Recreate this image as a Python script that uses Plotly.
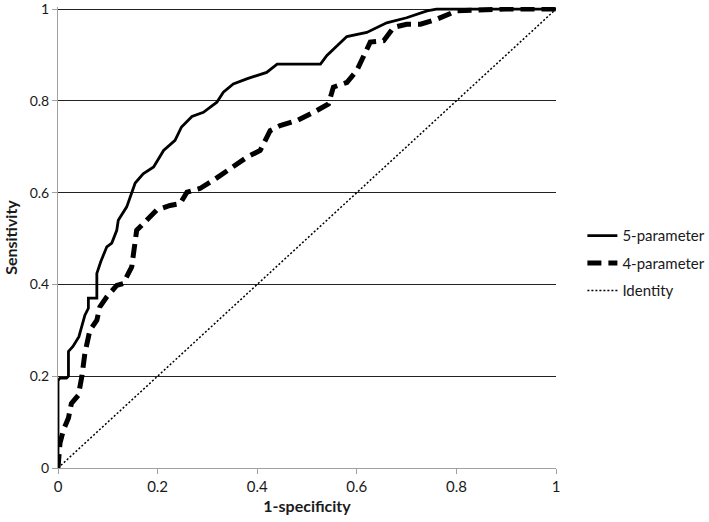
import plotly.graph_objects as go

# 5-parameter ROC curve
fpr5 = [0, 0, 0.004, 0.017, 0.021, 0.021, 0.03, 0.042, 0.054, 0.061, 0.061, 0.078, 0.078, 0.086, 0.098,
        0.108, 0.118, 0.121, 0.138, 0.148, 0.155, 0.171, 0.192, 0.212, 0.235, 0.248, 0.269, 0.292, 0.319,
        0.332, 0.352, 0.379, 0.419, 0.44, 0.527, 0.54, 0.56, 0.58, 0.62, 0.66, 0.70, 0.741, 0.76, 0.9, 1.0]
tpr5 = [0, 0.19, 0.196, 0.196, 0.2, 0.254, 0.265, 0.286, 0.333, 0.348, 0.37, 0.37, 0.424, 0.45, 0.482,
        0.49, 0.518, 0.54, 0.569, 0.598, 0.621, 0.641, 0.656, 0.692, 0.714, 0.743, 0.766, 0.775, 0.797,
        0.819, 0.837, 0.848, 0.862, 0.88, 0.88, 0.899, 0.92, 0.94, 0.949, 0.97, 0.981, 0.996, 1.0, 1.0, 1.0]

# 4-parameter ROC curve
fpr4 = [0, 0.004, 0.011, 0.021, 0.027, 0.041, 0.048, 0.054, 0.064, 0.078, 0.084, 0.098, 0.118, 0.131,
        0.148, 0.158, 0.178, 0.198, 0.225, 0.245, 0.259, 0.285, 0.312, 0.346, 0.379, 0.406, 0.426, 0.446,
        0.48, 0.513, 0.543, 0.553, 0.58, 0.60, 0.614, 0.627, 0.654, 0.674, 0.70, 0.728, 0.761, 0.80, 0.9, 1.0]
tpr4 = [0, 0.054, 0.083, 0.109, 0.141, 0.159, 0.2, 0.25, 0.30, 0.322, 0.351, 0.373, 0.398, 0.402,
        0.438, 0.518, 0.54, 0.562, 0.572, 0.576, 0.601, 0.609, 0.627, 0.652, 0.677, 0.692, 0.735, 0.746,
        0.757, 0.775, 0.793, 0.83, 0.84, 0.866, 0.899, 0.928, 0.931, 0.96, 0.967, 0.967, 0.978, 0.996, 1.0, 1.0]

# Identity line
fpr_id = [0, 1]
tpr_id = [0, 1]

tick_vals = [0, 0.2, 0.4, 0.6, 0.8, 1]
tick_text = ["0", "0.2", "0.4", "0.6", "0.8", "1"]

FONT = "Lato, 'Open Sans', sans-serif"
TXT = "#1a1a1a"

fig = go.Figure()
fig.add_trace(go.Scatter(x=fpr5, y=tpr5, mode="lines", name="5-parameter",
                         line=dict(color="black", width=2.8)))
fig.add_trace(go.Scatter(x=fpr4, y=tpr4, mode="lines", name="4-parameter",
                         line=dict(color="black", width=5, dash="14px,7px")))
fig.add_trace(go.Scatter(x=fpr_id, y=tpr_id, mode="lines", name="Identity",
                         line=dict(color="black", width=1.5, dash="2px,2px")))

fig.update_layout(
    width=709, height=522,
    margin=dict(l=58, r=153, t=7, b=54, autoexpand=False),
    paper_bgcolor="white", plot_bgcolor="white",
    font=dict(family=FONT, size=14, color=TXT),
    legend=dict(x=1.053, xanchor="left", y=0.444, yanchor="middle",
                font=dict(size=15, color=TXT), tracegroupgap=5,
                bgcolor="rgba(0,0,0,0)"),
    xaxis=dict(range=[0, 1], tickvals=tick_vals, ticktext=tick_text, automargin=False,
               showgrid=False, zeroline=False, showline=True, linecolor="#a0a0a0", linewidth=1,
               ticks="outside", ticklen=5, tickcolor="#a0a0a0", tickfont=dict(size=15, color=TXT),
               ticklabeloverflow="allow",
               title=dict(text="<b>1-specificity</b>", font=dict(size=16, color=TXT), standoff=6)),
    yaxis=dict(range=[0, 1.0045], tickvals=tick_vals, ticktext=tick_text, automargin=False,
               showgrid=True, gridcolor="#222", gridwidth=1, zeroline=False,
               showline=True, linecolor="#a0a0a0", linewidth=1,
               ticks="outside", ticklen=5, tickcolor="#a0a0a0", tickfont=dict(size=14, color=TXT),
               ticklabeloverflow="allow",
               title=dict(text="<b>Sensitivity</b>", font=dict(size=16, color=TXT), standoff=8)),
)
for i, tr in enumerate(fig.data):
    tr.legendgroup = f"g{i}"

fig.write_html("out.html", config={"displayModeBar": False},
               post_script="document.body.style.margin='0';")
